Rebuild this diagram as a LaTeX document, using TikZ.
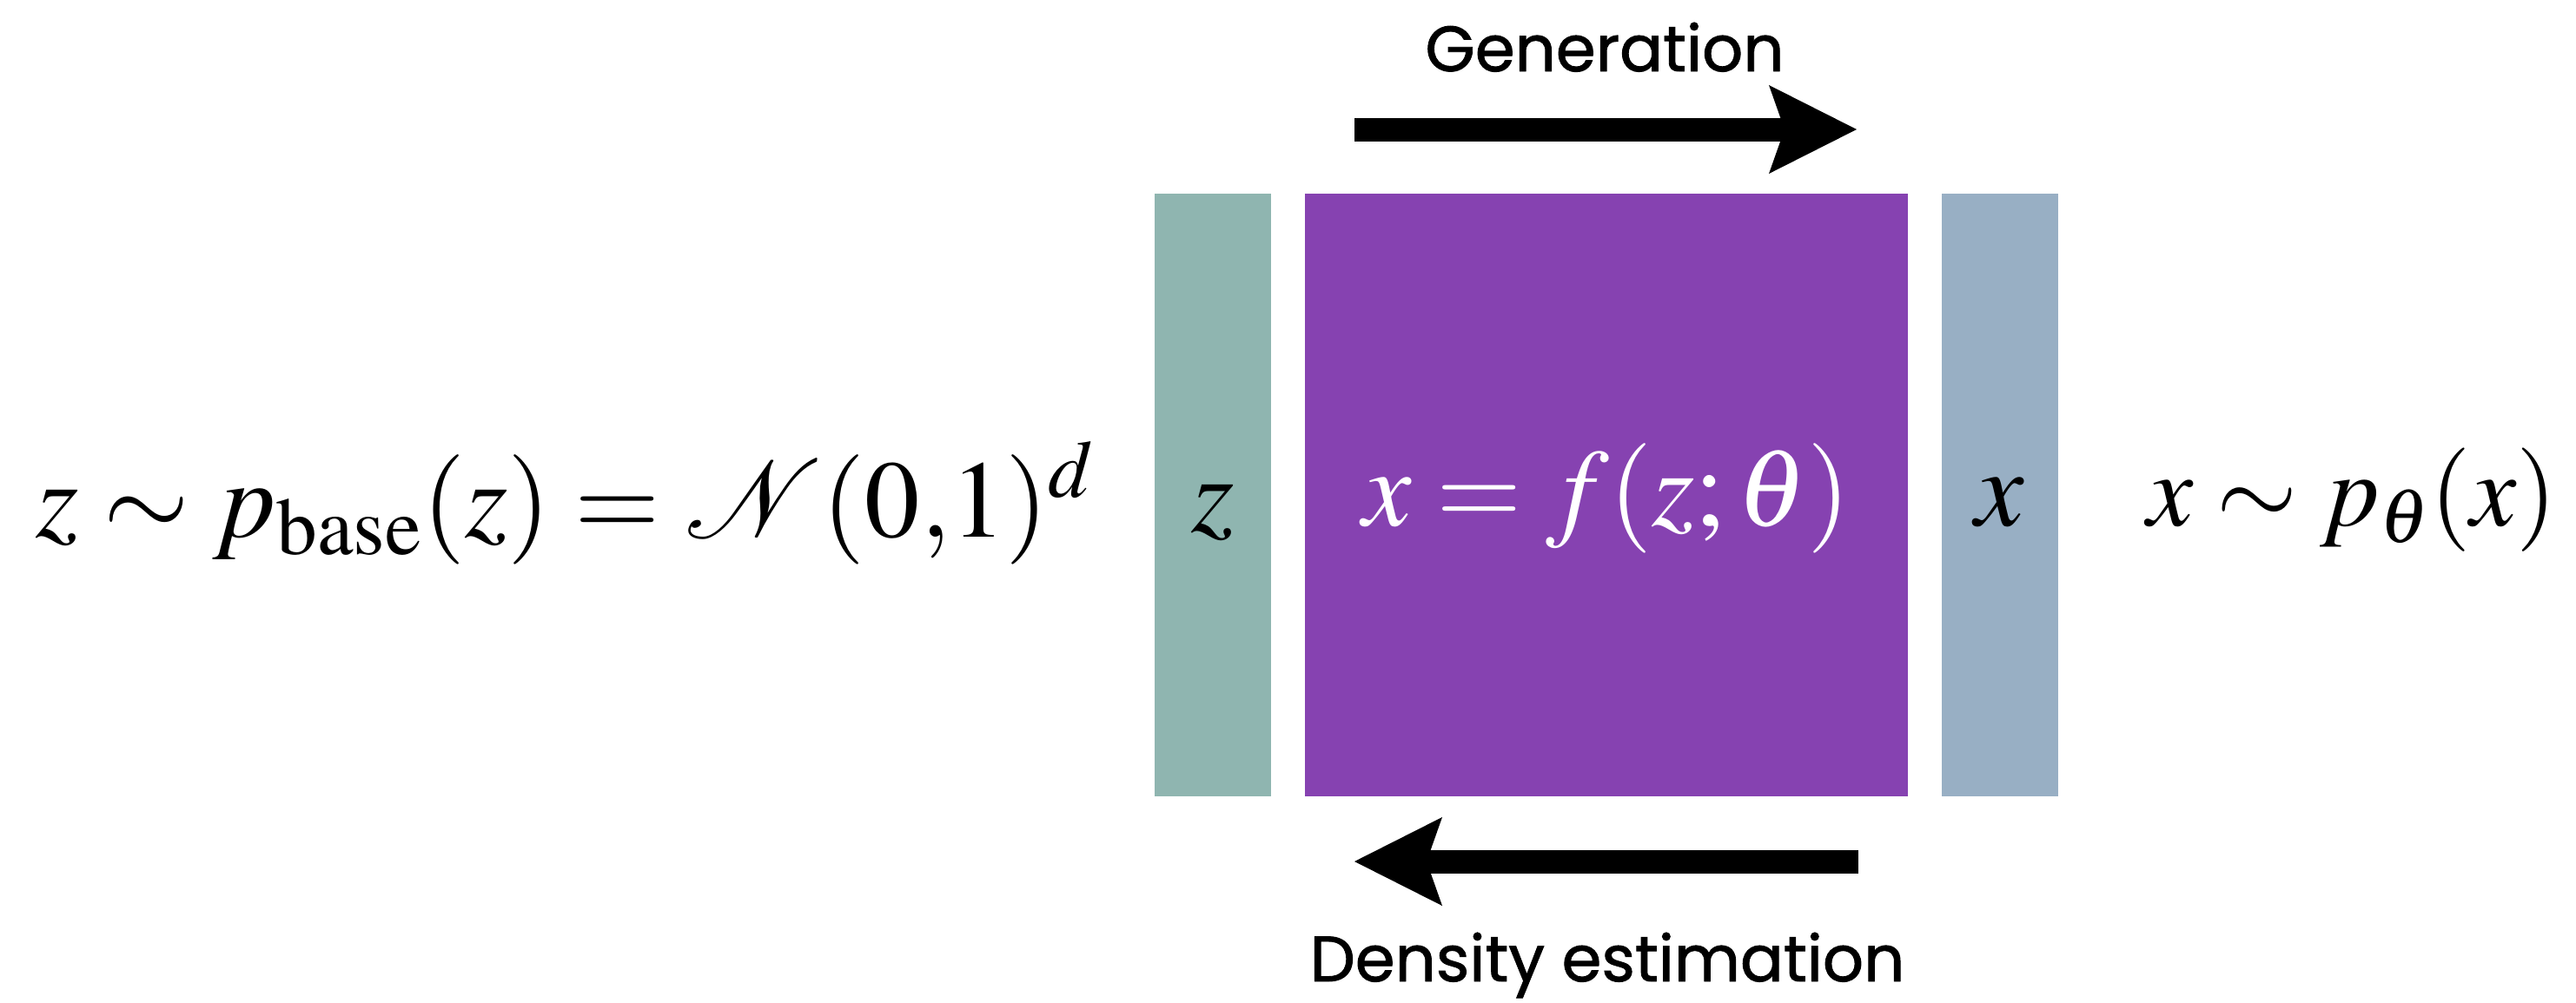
\documentclass[tikz,border=0pt]{standalone}
\usepackage{mathptmx}
\usepackage{fontspec}
\newfontfamily\labelfont[FakeBold=1.2]{Poppins}
\usetikzlibrary{arrows.meta,positioning}

\definecolor{latentcol}{HTML}{8FB5B0}
\definecolor{flowcol}{HTML}{8642B1}
\definecolor{datacol}{HTML}{98AFC4}

\begin{document}
\begin{tikzpicture}[
  bar/.style={rectangle,fill=#1,minimum width=1.34cm,minimum height=6.94cm,inner sep=0pt},
  eq/.style={font=\fontsize{36}{44}\selectfont,inner sep=0pt,anchor=base},
  lbl/.style={font=\labelfont\fontsize{21}{25}\selectfont,inner sep=0pt,anchor=base},
  bigarrow/.style={line width=0.27cm,
    -{Stealth[length=1.01cm,width=1.02cm,inset=0.18cm,line width=0pt]}}
]
\useasboundingbox (0,0) rectangle (29.65,-11.54);

% blocks
\node[bar=latentcol] (zbar) at (13.96,-5.70) {};
\node[bar=flowcol,minimum width=6.94cm] (flow) at (18.49,-5.70) {};
\node[bar=datacol] (xbar) at (23.02,-5.70) {};

\node[eq] (zlab) at ([yshift=-0.42cm]zbar.center) {$z$};
\node[eq,text=white] (flowlab) at ([yshift=-0.35cm]flow.center) {$x = f(z;\theta)$};
\node[eq] (xlab) at ([yshift=-0.35cm]xbar.center) {$x$};

% distributions
\node[eq,anchor=base west] (base) at (0.41,-6.18)
  {$z \sim p_{\mathrm{base}}(z) = \mathcal{N}(0{,}1)^{d}$};
\node[eq,anchor=base east,font=\fontsize{34}{40}\selectfont] (model) at (29.44,-6.05)
  {$x \sim p_{\theta}(x)$};

% directions
\coordinate (gen-s) at (15.59,-1.49);
\coordinate (gen-e) at (21.37,-1.49);
\coordinate (den-s) at (21.39,-9.92);
\coordinate (den-e) at (15.59,-9.92);
\draw[bigarrow] (gen-s) -- (gen-e);
\draw[bigarrow] (den-s) -- (den-e);

\node[lbl] (gen) at (18.47,-0.82) {Generation};
\node[lbl] (den) at (18.50,-11.30) {Density estimation};
\end{tikzpicture}
\end{document}
